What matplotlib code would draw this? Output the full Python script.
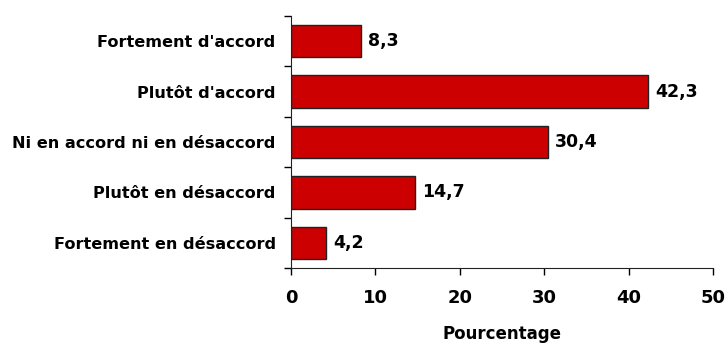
import matplotlib
matplotlib.use("Agg")
import matplotlib.pyplot as plt
from matplotlib.ticker import FixedLocator, NullFormatter

categories = ["Fortement d'accord", "Plutôt d'accord", "Ni en accord ni en désaccord",
              "Plutôt en désaccord", "Fortement en désaccord"]
values = [8.3, 42.3, 30.4, 14.7, 4.2]
xticks = [0, 10, 20, 30, 40, 50]

plt.rcParams['font.family'] = ['DejaVu Sans']
fig = plt.figure(figsize=(7.26, 3.43), dpi=100)
ax = fig.add_axes([291/726, 1-268/343, (713-291)/726, (268-16)/343])

n = len(categories)
ypos = list(range(n))
ax.barh(ypos, values, height=0.64, color="#CC0000", edgecolor="#222222", linewidth=1.0)
ax.set_ylim(n - 0.5, -0.5)
ax.set_xlim(0, 50)

for y, v in zip(ypos, values):
    ax.annotate(f"{v:.1f}".replace(".", ","), xy=(v, y), xytext=(5, 0), textcoords="offset points",
                va="center", ha="left", fontsize=12.5, fontweight="bold")

ax.set_yticks(ypos)
ax.set_yticklabels(categories, fontsize=11.6, fontweight="bold")
ax.tick_params(axis="y", which="major", length=0, pad=11)
ax.yaxis.set_minor_locator(FixedLocator([i - 0.5 for i in range(n + 1)]))
ax.yaxis.set_minor_formatter(NullFormatter())
ax.tick_params(axis="y", which="minor", length=5, direction="out", width=1)

ax.set_xticks(xticks)
ax.set_xticklabels([str(t) for t in xticks], fontsize=13, fontweight="bold")
ax.tick_params(axis="x", length=5, direction="out", width=1, pad=10)
ax.set_xlabel("Pourcentage", fontsize=12, fontweight="bold", labelpad=13)

for s in ["top", "right"]:
    ax.spines[s].set_visible(False)
ax.spines["left"].set_color("#222222")
ax.spines["bottom"].set_color("#222222")

fig.savefig("out.png", dpi=100)
